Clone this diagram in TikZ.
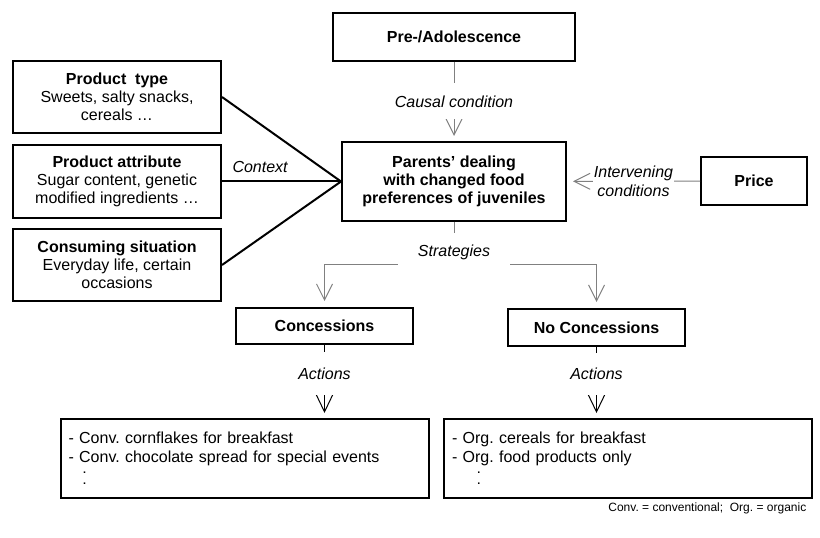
\documentclass[tikz,border=0pt]{standalone}
\usepackage{fontspec}
\setmainfont{Liberation Sans}
\usetikzlibrary{arrows.meta,positioning,calc}
\frenchspacing
\newcommand{\vdotline}[1]{{\fontsize{8pt}{8pt}\selectfont\bfseries\hspace*{#1}.}}

\begin{document}
\begin{tikzpicture}[
  x=0.75pt, y=-0.75pt,
  font=\fontsize{12pt}{13.5pt}\selectfont,
  % ── node styles ──────────────────────────────────────────
  cbox/.style={
    rectangle, draw, line width=1.5pt, align=center,
    font=\fontsize{12pt}{13.5pt}\selectfont\bfseries
  },
  ctxbox/.style={
    rectangle, draw, line width=1.5pt, align=center,
    minimum width=156pt, minimum height=54pt
  },
  actbox/.style={
    rectangle, draw, line width=1.5pt, align=left,
    text width=264pt, inner xsep=6pt, minimum height=59.25pt,
    font=\fontsize{12pt}{14.25pt}\selectfont
  },
  % ── link styles ──────────────────────────────────────────
  ctxlink/.style={line width=1.5pt},
  condlink/.style={draw=gray, line width=0.75pt,
    -{Straight Barb[length=12pt,width=12pt]}},
  actlink/.style={line width=0.75pt,
    -{Straight Barb[length=14pt,width=13.5pt]}},
  % ── labels ───────────────────────────────────────────────
  lbl/.style={font=\fontsize{12pt}{14.25pt}\selectfont\itshape, inner sep=1pt},
  condlbl/.style={lbl, fill=white, align=center},
]
\useasboundingbox (0,0) rectangle (820,538);

%% ── CENTRAL CHAIN ────────────────────────────────────────────
\node[cbox, minimum width=181.5pt, minimum height=36pt] (pre) at (454,37)
  {Pre-/Adolescence};
\node[cbox, minimum width=168pt, minimum height=59.25pt] (main) at (454,181.5)
  {Parents’ dealing\\with changed food\\preferences of juveniles};
\node[cbox, minimum width=79.5pt, minimum height=36pt] (price) at (754,181)
  {Price};

%% ── CONTEXT BOXES ────────────────────────────────────────────
\node[ctxbox] (ptype) at (117,97)
  {\textbf{Product\ \ type}\\Sweets, salty snacks,\\cereals …};
\node[ctxbox, minimum height=54.75pt] (pattr) at (117,181.5)
  {\textbf{Product attribute}\\Sugar content, genetic\\modified ingredients …};
\node[ctxbox] (psitu) at (117,265)
  {\textbf{Consuming situation}\\Everyday life, certain\\occasions};

%% ── STRATEGIES ───────────────────────────────────────────────
\node[cbox, minimum width=132.75pt, minimum height=27pt] (conc) at (324.5,326)
  {Concessions};
\node[cbox, minimum width=132.75pt, minimum height=27.75pt] (noconc) at (596.5,327.5)
  {No Concessions};

%% ── ACTIONS ──────────────────────────────────────────────────
\node[actbox] (actc) at (244.5,458.5)
  {- Conv. cornflakes for breakfast\\- Conv. chocolate spread for special events\\[-6pt]%
   \vdotline{11pt}\\[-6pt]\vdotline{11pt}};
\node[actbox] (actn) at (628,458.5)
  {- Org. cereals for breakfast\\- Org. food products only\\[-6pt]%
   \vdotline{19pt}\\[-6pt]\vdotline{19pt}};

%% ── CONTEXT LINKS ────────────────────────────────────────────
\draw[ctxlink] (ptype.east) -- (main.west);
\draw[ctxlink] (pattr) -- node[lbl, pos=0.32, above=5pt]{Context} (main);
\draw[ctxlink] (psitu.east) -- (main.west);

%% ── CONDITIONS ───────────────────────────────────────────────
\draw[condlink, shorten >=3.75pt] (pre) --
  node[condlbl, minimum height=27pt]{Causal condition} (main);
\draw[condlink, shorten >=4.5pt] (price) --
  node[condlbl]{Intervening\\conditions} (main);

%% ── STRATEGY SPLIT ───────────────────────────────────────────
\coordinate (split) at (454,264);
\draw[condlink, -] (main) -- (split);
\draw[condlink, shorten >=4.5pt] (split) -| (conc);
\draw[condlink, shorten >=4.5pt] (split) -| (noconc);
\node[condlbl, minimum width=84pt, minimum height=28.5pt] (strat) at (454,252)
  {Strategies};

%% ── ACTION LINKS ─────────────────────────────────────────────
\draw[actlink, shorten >=3.75pt] (conc) --
  node[condlbl, pos=0.39, minimum height=32pt]{Actions} (conc.south |- actc.north);
\draw[actlink, shorten >=3.75pt] (noconc) --
  node[condlbl, pos=0.38, minimum height=32pt]{Actions} (noconc.south |- actn.north);

%% ── NOTE ─────────────────────────────────────────────────────
\node[font=\fontsize{9pt}{11pt}\selectfont, anchor=east] (note) at (811,508)
  {Conv. = conventional;\ \ Org. = organic};

\end{tikzpicture}
\end{document}
